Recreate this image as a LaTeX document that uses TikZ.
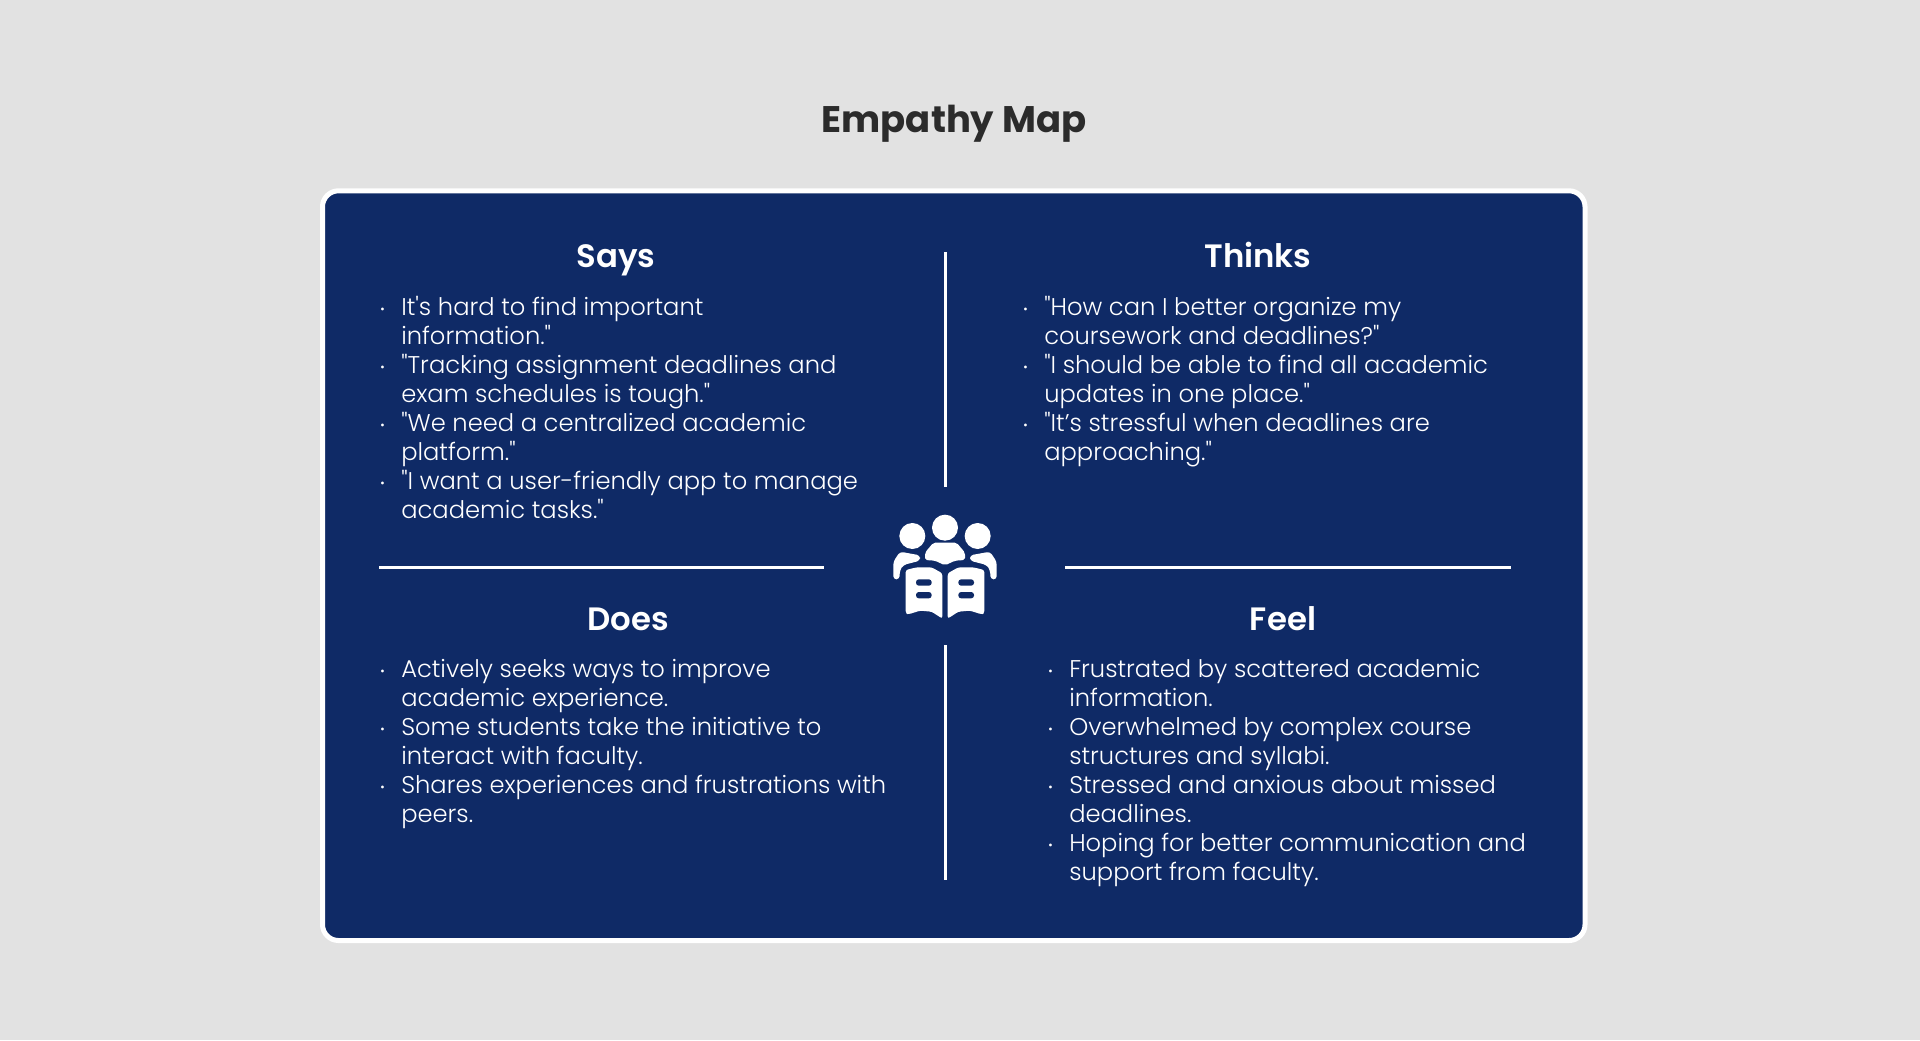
\documentclass[tikz,border=0pt]{standalone}
\usepackage{fontspec}
\setmainfont{Poppins}[Ligatures=TeXOff, UprightFont=* Light, BoldFont=* SemiBold]
\newfontface\titleface{Poppins Bold}[Ligatures=TeXOff]
\usetikzlibrary{positioning}
\definecolor{pagegrey}{HTML}{E2E2E2}
\definecolor{mapnavy}{HTML}{0F2A66}
\definecolor{titleink}{HTML}{2B2B2B}
\newcommand{\itemdot}{\llap{\raisebox{1.5pt}{\scalebox{0.5}{\textbullet}}\hspace{4.1mm}}}
\tikzset{
  maptitle/.style={font=\titleface\fontsize{26.3}{30}\selectfont, text=titleink, anchor=base},
  headtext/.style={font=\bfseries\fontsize{23}{26}\selectfont, text=white, anchor=base},
  listtext/.style={font=\fontsize{17.2}{20.6}\selectfont, text=white, align=left, anchor=north west, inner sep=0pt},
  divider/.style={white, line width=1.6pt},
}
\begin{document}
\begin{tikzpicture}[x=0.025cm, y=-0.025cm]
  \useasboundingbox (0,0) rectangle (1920,1040);
  \fill[pagegrey] (0,0) rectangle (1920,1040);

  % panel
  \draw[white, line width=5*0.025cm, fill=mapnavy, rounded corners=0.4cm] (322.5,190.8) rectangle (1585,940.5);
  \node[maptitle] (title) at (954,132) {Empathy Map};

  % dividers
  \coordinate (topA) at (945.5,252);
  \coordinate (topB) at (945.5,487);
  \coordinate (botA) at (945.5,645);
  \coordinate (botB) at (945.5,880);
  \coordinate (leftA) at (379,567.5);
  \coordinate (leftB) at (824,567.5);
  \coordinate (rightA) at (1065,567.5);
  \coordinate (rightB) at (1511,567.5);
  \draw[divider] (topA) -- (topB);
  \draw[divider] (botA) -- (botB);
  \draw[divider] (leftA) -- (leftB);
  \draw[divider] (rightA) -- (rightB);

  % Says
  \node[headtext] (says) at (616,267) {Says};
  \node[listtext] (saysList) at (401,296) {\itemdot It's hard to find important\\
    information."\\
    \itemdot "Tracking assignment deadlines and\\
    exam schedules is tough."\\
    \itemdot "We need a centralized academic\\
    platform."\\
    \itemdot "I want a user-friendly app to manage\\
    academic tasks."};

  % Thinks
  \node[headtext] (thinks) at (1258,267) {Thinks};
  \node[listtext] (thinksList) at (1044,296) {\itemdot "How can I better organize my\\
    coursework and deadlines?"\\
    \itemdot "I should be able to find all academic\\
    updates in one place."\\
    \itemdot "It’s stressful when deadlines are\\
    approaching."};

  % Does
  \node[headtext] (does) at (628,630) {Does};
  \node[listtext] (doesList) at (401,659.5) {\itemdot Actively seeks ways to improve\\
    academic experience.\\
    \itemdot Some students take the initiative to\\
    interact with faculty.\\
    \itemdot Shares experiences and frustrations with\\
    peers.};

  % Feel
  \node[headtext] (feel) at (1283,630) {Feel};
  \node[listtext] (feelList) at (1069,659.5) {\itemdot Frustrated by scattered academic\\
    information.\\
    \itemdot Overwhelmed by complex course\\
    structures and syllabi.\\
    \itemdot Stressed and anxious about missed\\
    deadlines.\\
    \itemdot Hoping for better communication and\\
    support from faculty.};

  % readers icon
  \begin{scope}[shift={(945,490)}, x=0.025cm/3, y=-0.025cm/3]
    \fill[white] (0,113) circle (39);
    \fill[white, rounded corners=0.05cm] (-60,210) -- (-60,188) -- (-35,158) -- (35,158) -- (60,188) -- (60,210)
      -- (30,212) -- (0,226) -- (-30,212) -- cycle;
    \foreach \flip in {1,-1} {
      \begin{scope}[xscale=\flip]
        \fill[white] (98,138) circle (39);
        \fill[white, rounded corners=0.08cm] (155,268) -- (155,215) -- (135,185) -- (75,196) -- (75,212)
          -- (125,225) -- (135,240) -- (137,268) -- cycle;
        \fill[white, rounded corners=0.06cm] (8,250) -- (40,232) -- (85,232) -- (118,240) -- (118,370)
          -- (110,373) -- (75,362) -- (40,365) -- (8,386) -- cycle;
        \fill[mapnavy, rounded corners=0.07cm] (40,268) rectangle (87,287);
        \fill[mapnavy, rounded corners=0.07cm] (40,306) rectangle (87,325);
      \end{scope}
    }
  \end{scope}
\end{tikzpicture}
\end{document}
